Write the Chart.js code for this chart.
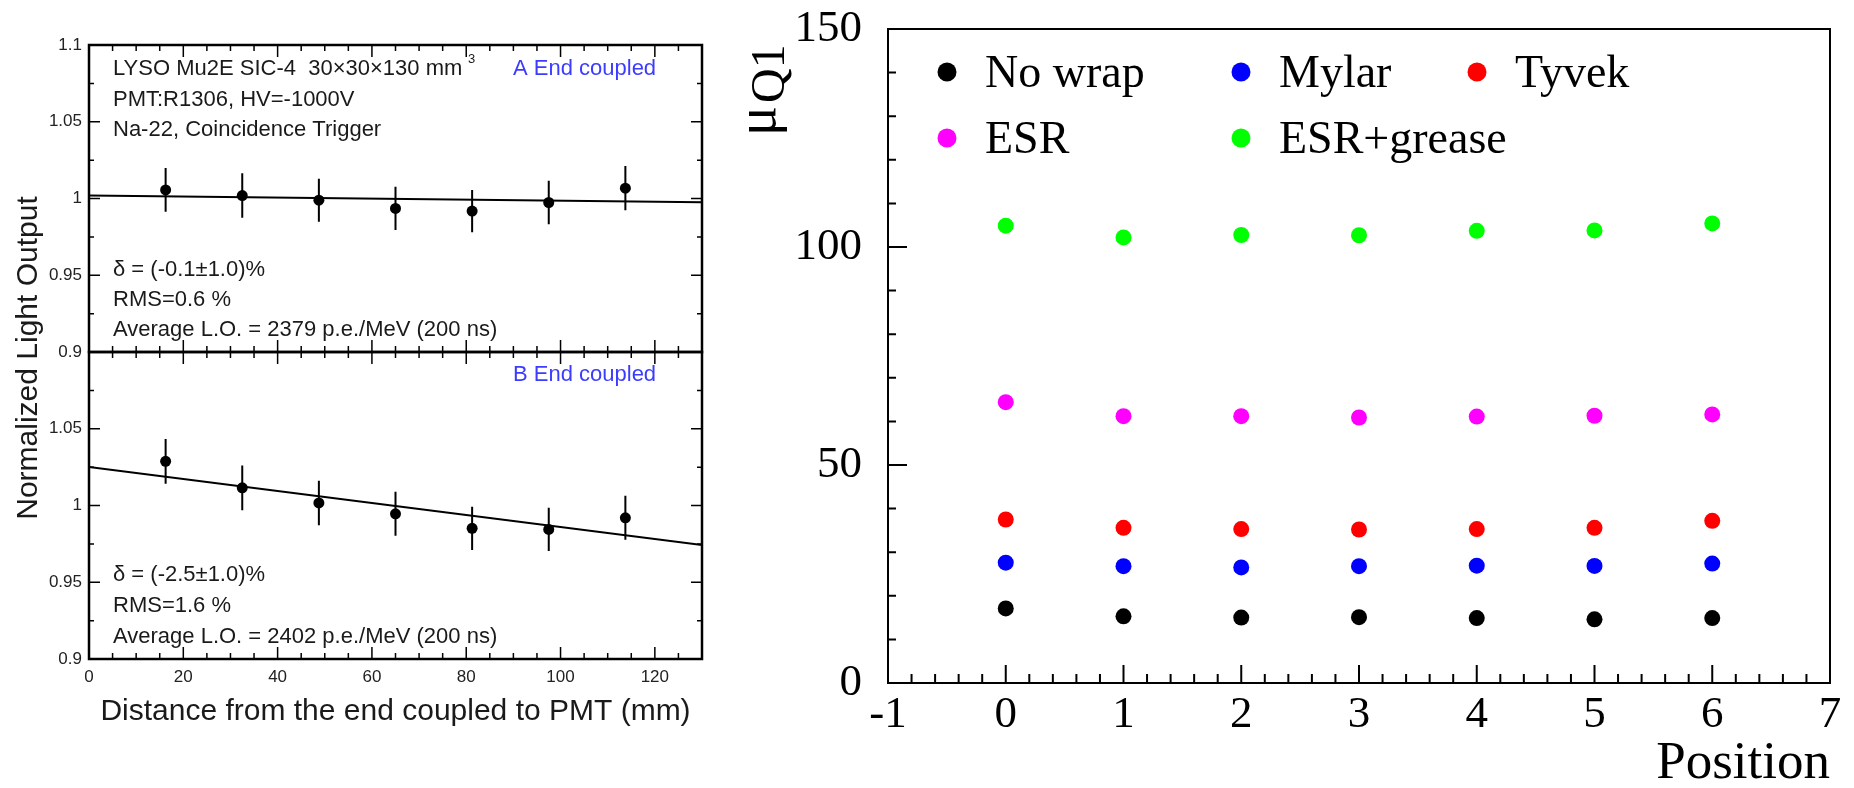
<!doctype html>
<html lang="en">
<head>
<meta charset="UTF-8">
<title>LYSO light output uniformity and mu_Q1 by wrapping</title>
<style>
  html, body { margin: 0; padding: 0; background: #fff; overflow: hidden; }
  canvas { position: absolute; left: 0; top: 0; }
</style>
</head>
<body>
<canvas id="topLeft" width="1854" height="788"></canvas>
<canvas id="bottomLeft" width="1854" height="788"></canvas>
<canvas id="right" width="1854" height="788"></canvas>
<script src="https://cdn.jsdelivr.net/npm/chart.js@4.4.1/dist/chart.umd.min.js"></script>
<script>
// Data-----
// left: normalized light output vs distance from the coupled end (mm)
const distance = [16.25, 32.5, 48.75, 65, 81.25, 97.5, 113.75];
const loA  = [1.0056, 1.0019, 0.9989, 0.9935, 0.9918, 0.9974, 1.0067];
const errA = [0.0142, 0.0145, 0.0140, 0.0141, 0.0138, 0.0142, 0.0144];
const loB  = [1.0288, 1.0115, 1.0017, 0.9946, 0.9851, 0.9844, 0.9920];
const errB = [0.0146, 0.0146, 0.0145, 0.0143, 0.0141, 0.0141, 0.0143];
const fitX = [0, 130];
const fitA = [1.0019, 0.9976];
const fitB = [1.0251, 0.9742];

// right: mu_Q1 vs position
const positions = [0, 1, 2, 3, 4, 5, 6];
const noWrap    = [17.1, 15.3, 15.0, 15.1, 14.9, 14.6, 14.9];
const mylar     = [27.6, 26.8, 26.5, 26.8, 26.9, 26.85, 27.4];
const tyvek     = [37.5, 35.6, 35.3, 35.2, 35.3, 35.6, 37.2];
const esr       = [64.4, 61.2, 61.2, 60.9, 61.1, 61.3, 61.6];
const esrGrease = [104.9, 102.2, 102.75, 102.7, 103.7, 103.8, 105.4];
const wrapNames = ['No wrap', 'Mylar', 'Tyvek', 'ESR', 'ESR+grease'];
const wrapColors = ['#000000', '#0000ff', '#ff0000', '#ff00ff', '#00ff00'];
// Data-----

const sans = '"Liberation Sans", Arial, sans-serif';
const serif = '"Liberation Serif", "Times New Roman", serif';
const pts = (xs, ys) => xs.map((x, i) => ({x: x, y: ys[i]}));

// Plugins-----
// ROOT style frame with inward major/minor ticks
const frameTicks = {
  id: 'frameTicks',
  afterDraw(chart, args, o) {
    const {ctx, chartArea: a, scales} = chart;
    ctx.save();
    ctx.strokeStyle = '#000';
    ctx.lineWidth = o.frameWidth;
    ctx.strokeRect(a.left, a.top, a.right - a.left, a.bottom - a.top);
    ctx.lineWidth = o.tickWidth;
    ctx.beginPath();
    ['x', 'y'].forEach((id) => {
      const t = o[id], s = scales[id];
      const n = Math.round((s.max - s.min) / t.minor);
      for (let i = 1; i < n; i++) {
        const v = s.min + i * t.minor;
        const q = v / t.major;
        const len = Math.abs(q - Math.round(q)) < 1e-6 ? t.majorLen : t.minorLen;
        const p = s.getPixelForValue(v);
        t.sides.forEach((side) => {
          if (side === 'bottom') { ctx.moveTo(p, a.bottom); ctx.lineTo(p, a.bottom - len); }
          if (side === 'top') { ctx.moveTo(p, a.top); ctx.lineTo(p, a.top + len); }
          if (side === 'left') { ctx.moveTo(a.left, p); ctx.lineTo(a.left + len, p); }
          if (side === 'right') { ctx.moveTo(a.right, p); ctx.lineTo(a.right - len, p); }
        });
      }
    });
    ctx.stroke();
    ctx.restore();
  }
};

const errorBars = {
  id: 'errorBars',
  beforeDatasetsDraw(chart) {
    const {ctx, scales: {x, y}} = chart;
    chart.data.datasets.forEach((ds) => {
      if (!ds.errors) return;
      ctx.save();
      ctx.strokeStyle = '#000';
      ctx.lineWidth = 2;
      ctx.beginPath();
      ds.data.forEach((p, i) => {
        const px = x.getPixelForValue(p.x);
        ctx.moveTo(px, y.getPixelForValue(p.y - ds.errors[i]));
        ctx.lineTo(px, y.getPixelForValue(p.y + ds.errors[i]));
      });
      ctx.stroke();
      ctx.restore();
    });
  }
};

// free text: [text, x, baseline y, size, color, rotate]
const notes = {
  id: 'notes',
  afterDraw(chart, args, o) {
    const ctx = chart.ctx;
    o.items.forEach((it) => {
      ctx.save();
      ctx.font = it[3] + 'px ' + (o.family || sans);
      ctx.fillStyle = it[4] || '#1a1a1a';
      ctx.textBaseline = 'alphabetic';
      ctx.textAlign = it[5] ? 'center' : 'left';
      ctx.translate(it[1], it[2]);
      if (it[5]) ctx.rotate(-Math.PI / 2);
      ctx.fillText(it[0], 0, 0);
      ctx.restore();
    });
  }
};

// legend in three columns and the mu_Q1 axis title
const rightDecor = {
  id: 'rightDecor',
  afterDraw(chart, args, o) {
    const ctx = chart.ctx;
    ctx.save();
    chart.data.datasets.forEach((ds, i) => {
      const [lx, ly] = o.spots[i];
      ctx.fillStyle = ds.backgroundColor;
      ctx.beginPath();
      ctx.arc(lx, ly, 9.5, 0, Math.PI * 2);
      ctx.fill();
      ctx.fillStyle = '#000';
      ctx.font = '46px ' + serif;
      ctx.textBaseline = 'alphabetic';
      ctx.fillText(ds.label, lx + 38, ly + 15);
    });
    ctx.translate(775, 136);
    ctx.rotate(-Math.PI / 2);
    ctx.font = '56px ' + serif;
    ctx.fillText('μ', 0, 0);
    const w = ctx.measureText('μ').width;
    ctx.font = '48px ' + serif;
    ctx.fillText('Q1', w + 3, 9);
    ctx.restore();
  }
};
// Plugins-----

const leftTicks = {
  frameWidth: 2.5, tickWidth: 1.5,
  x: {minor: 5, major: 20, minorLen: 6, majorLen: 12, sides: ['bottom', 'top']},
  y: {minor: 0.025, major: 0.05, minorLen: 5, majorLen: 11, sides: ['left', 'right']}
};

function leftY(hideTop) {
  return {
    min: 0.9, max: 1.1,
    grid: {display: false, drawTicks: false},
    border: {display: false},
    ticks: {
      stepSize: 0.05, padding: 7, color: '#222', font: {family: sans, size: 17},
      callback: (v) => (hideTop && v > 1.099) ? '' : v
    },
    afterFit: (s) => { s.width = 89; s.paddingTop = 0; s.paddingBottom = 0; }
  };
}

function leftData(vals, errs, fit) {
  return [
    {data: pts(distance, vals), errors: errs, backgroundColor: '#000', pointRadius: 5.5, borderWidth: 0},
    {data: pts(fitX, fit), showLine: true, borderColor: '#000', borderWidth: 2, pointRadius: 0}
  ];
}

new Chart(document.getElementById('topLeft'), {
  type: 'scatter',
  data: {datasets: leftData(loA, errA, fitA)},
  options: {
    responsive: false, animation: false, events: [],
    layout: {padding: {left: 0, right: 1152, top: 45, bottom: 436}},
    plugins: {
      legend: {display: false}, tooltip: {enabled: false},
      frameTicks: leftTicks,
      notes: {items: [
        ['LYSO Mu2E SIC-4  30×30×130 mm', 113, 75, 22],
        ['3', 468, 63, 13],
        ['A End coupled', 513, 75, 22, '#3c3cff'],
        ['PMT:R1306, HV=-1000V', 113, 106, 22],
        ['Na-22, Coincidence Trigger', 113, 136, 22],
        ['δ = (-0.1±1.0)%', 113, 276, 22],
        ['RMS=0.6 %', 113, 306, 22],
        ['Average L.O. = 2379 p.e./MeV (200 ns)', 113, 336, 22]
      ]}
    },
    scales: {
      x: {min: 0, max: 130, display: false},
      y: leftY(false)
    }
  },
  plugins: [errorBars, frameTicks, notes]
});

new Chart(document.getElementById('bottomLeft'), {
  type: 'scatter',
  data: {datasets: leftData(loB, errB, fitB)},
  options: {
    responsive: false, animation: false, events: [],
    layout: {padding: {left: 0, right: 1152, top: 352, bottom: 0}},
    plugins: {
      legend: {display: false}, tooltip: {enabled: false},
      frameTicks: leftTicks,
      notes: {items: [
        ['B End coupled', 513, 381, 22, '#3c3cff'],
        ['δ = (-2.5±1.0)%', 113, 581, 22],
        ['RMS=1.6 %', 113, 612, 22],
        ['Average L.O. = 2402 p.e./MeV (200 ns)', 113, 643, 22],
        ['Normalized Light Output', 37, 358, 30, '#1a1a1a', true]
      ]}
    },
    scales: {
      x: {
        min: 0, max: 130,
        grid: {display: false, drawTicks: false},
        border: {display: false},
        ticks: {stepSize: 20, includeBounds: false, padding: 8, color: '#222', font: {family: sans, size: 17}},
        title: {
          display: true, text: 'Distance from the end coupled to PMT (mm)', color: '#1a1a1a',
          font: {family: sans, size: 30, lineHeight: 1.2}, padding: {top: 0, bottom: 58}
        },
        afterFit: (s) => { s.height = 129; }
      },
      y: leftY(true)
    }
  },
  plugins: [errorBars, frameTicks, notes]
});

const wrapSeries = [noWrap, mylar, tyvek, esr, esrGrease];

new Chart(document.getElementById('right'), {
  type: 'scatter',
  data: {
    datasets: wrapSeries.map((vals, i) => ({
      label: wrapNames[i],
      data: pts(positions, vals),
      backgroundColor: wrapColors[i],
      pointRadius: 8,
      borderWidth: 0
    }))
  },
  options: {
    responsive: false, animation: false, events: [],
    layout: {padding: {left: 788, right: 24, top: 29, bottom: 0}},
    plugins: {
      legend: {display: false}, tooltip: {enabled: false},
      frameTicks: {
        frameWidth: 2, tickWidth: 2,
        x: {minor: 0.2, major: 1, minorLen: 9, majorLen: 18, sides: ['bottom']},
        y: {minor: 10, major: 50, minorLen: 8, majorLen: 19, sides: ['left']}
      },
      rightDecor: {spots: [[947, 72], [1241, 72], [1477, 72], [947, 138], [1241, 138]]}
    },
    scales: {
      x: {
        min: -1, max: 7,
        grid: {display: false, drawTicks: false},
        border: {display: false},
        ticks: {stepSize: 1, padding: 5, color: '#000', font: {family: serif, size: 45}},
        title: {
          display: true, text: 'Position', align: 'end', color: '#000',
          font: {family: serif, size: 53, lineHeight: 0.9}, padding: 0
        },
        afterFit: (s) => { s.height = 105; s.paddingLeft = 0; s.paddingRight = 0; }
      },
      y: {
        min: 0, max: 150,
        grid: {display: false, drawTicks: false},
        border: {display: false},
        ticks: {stepSize: 50, padding: 26, color: '#000', font: {family: serif, size: 45}},
        afterFit: (s) => { s.width = 100; s.paddingTop = 0; s.paddingBottom = 0; }
      }
    }
  },
  plugins: [frameTicks, rightDecor]
});
</script>
</body>
</html>
